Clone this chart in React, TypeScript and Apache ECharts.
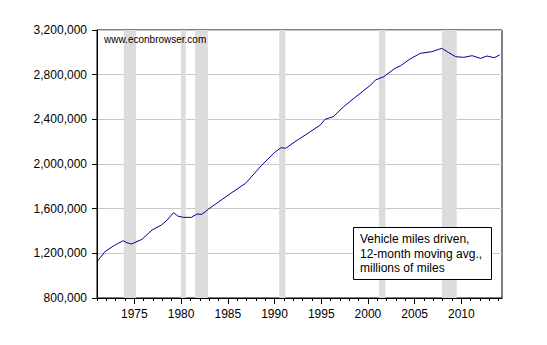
import React, { useEffect, useRef } from "react";
import * as echarts from "echarts";

const years = [
  1971.0, 1971.85, 1972.75, 1973.8, 1974.2, 1974.7, 1975.8, 1976.9, 1977.9, 1978.5,
  1979.2, 1979.65, 1980.25, 1981.1, 1981.7, 1982.2, 1982.6, 1982.9, 1985.05, 1986.9,
  1988.65, 1990.1, 1990.7, 1991.2, 1992.2, 1993.3, 1994.9, 1995.4, 1996.3, 1997.4,
  1998.5, 2000.3, 2000.8, 2001.7, 2002.9, 2003.5, 2004.5, 2005.6, 2006.85, 2007.9,
  2008.65, 2009.4, 2010.25, 2011.15, 2012.05, 2012.75, 2013.5, 2014.1,
];
const milesDriven = [
  1125000, 1215000, 1266000, 1313000, 1295000, 1284000, 1325000, 1409000, 1454000, 1498000,
  1564000, 1534000, 1522000, 1522000, 1552000, 1549000, 1573000, 1594000, 1722000, 1827000,
  1991000, 2110000, 2146000, 2141000, 2200000, 2260000, 2349000, 2400000, 2424000, 2513000,
  2588000, 2707000, 2752000, 2782000, 2857000, 2880000, 2940000, 2991000, 3006000, 3036000,
  2997000, 2961000, 2955000, 2970000, 2946000, 2967000, 2952000, 2976000,
];
const recessionStarts = [1973.87, 1980.0, 1981.5, 1990.5, 2001.17, 2007.92];
const recessionEnds = [1975.17, 1980.5, 1982.87, 1991.17, 2001.87, 2009.5];
const yearLabels = [1975, 1980, 1985, 1990, 1995, 2000, 2005, 2010];
const yearTicks = [
  1971, 1972, 1973, 1974, 1975, 1976, 1977, 1978, 1979, 1980, 1981, 1982, 1983, 1984,
  1985, 1986, 1987, 1988, 1989, 1990, 1991, 1992, 1993, 1994, 1995, 1996, 1997, 1998,
  1999, 2000, 2001, 2002, 2003, 2004, 2005, 2006, 2007, 2008, 2009, 2010, 2011, 2012,
  2013, 2014,
];
const xMin = 1971;
const xMax = 2014.35;

export default function App() {
  const ref = useRef<HTMLDivElement>(null);
  useEffect(() => {
    if (!ref.current) return;
    document.body.style.margin = "0";
    const chart = echarts.init(ref.current, undefined, { renderer: "svg" });
    const font = "Arial, 'Liberation Sans', sans-serif";
    chart.setOption({
      animation: false,
      backgroundColor: "#ffffff",
      grid: {
        left: 97,
        top: 30,
        right: 45,
        bottom: 47,
        show: true,
        borderColor: "#000",
        borderWidth: 1,
        backgroundColor: "transparent",
      },
      xAxis: [
        {
          type: "value",
          min: xMin,
          max: xMax,
          position: "bottom",
          axisLine: { show: true, lineStyle: { color: "#000" } },
          splitLine: { show: false },
          axisTick: {
            show: true,
            inside: false,
            length: 6,
            customValues: yearLabels,
            lineStyle: { color: "#000" },
          },
          axisLabel: {
            customValues: yearLabels,
            formatter: (v: number) => String(Math.round(v)),
            color: "#000",
            fontFamily: font,
            fontSize: 12,
            margin: 10,
          },
        },
        {
          type: "value",
          min: xMin,
          max: xMax,
          position: "bottom",
          axisLine: { show: false },
          splitLine: { show: false },
          axisTick: {
            show: true,
            inside: false,
            length: 3,
            customValues: yearTicks,
            lineStyle: { color: "#000" },
          },
          axisLabel: { show: false },
        },
      ],
      yAxis: {
        type: "value",
        min: 800000,
        max: 3200000,
        interval: 400000,
        axisLine: { show: true, lineStyle: { color: "#000" } },
        axisTick: { show: true, inside: false, length: 5, lineStyle: { color: "#000" } },
        splitLine: { show: true, lineStyle: { color: "#c8c8c8", width: 1 } },
        axisLabel: {
          color: "#000",
          fontFamily: font,
          fontSize: 12,
          margin: 10,
          formatter: (v: number) => v.toLocaleString("en-US"),
        },
      },
      series: [
        {
          type: "line",
          xAxisIndex: 0,
          data: years.map((y, i) => [y, milesDriven[i]]),
          showSymbol: false,
          symbol: "none",
          lineStyle: { color: "#00009c", width: 1 },
          z: 3,
          markArea: {
            silent: true,
            itemStyle: { color: "#dcdcdc", opacity: 1 },
            data: recessionStarts.map((s, i) => [{ xAxis: s }, { xAxis: recessionEnds[i] }]),
          },
        },
      ],
      graphic: [
        {
          type: "text",
          left: 104,
          top: 34,
          z: 20,
          zlevel: 1,
          style: {
            text: "www.econbrowser.com",
            fill: "#000",
            font: `10px ${font}`,
          },
        },
        {
          type: "rect",
          zlevel: 1,
          z: 10,
          shape: { x: 353.5, y: 227.5, width: 138, height: 52 },
          style: { fill: "#fff", stroke: "#000", lineWidth: 1 },
        },
        {
          type: "text",
          x: 360,
          y: 232,
          z: 11,
          zlevel: 1,
          style: {
            text: "Vehicle miles driven,\n12-month moving avg.,\nmillions of miles",
            fill: "#000",
            font: `12px ${font}`,
            lineHeight: 14.5,
          },
        },
      ],
    });
    return () => chart.dispose();
  }, []);
  return <div ref={ref} style={{ width: 547, height: 345 }} />;
}
